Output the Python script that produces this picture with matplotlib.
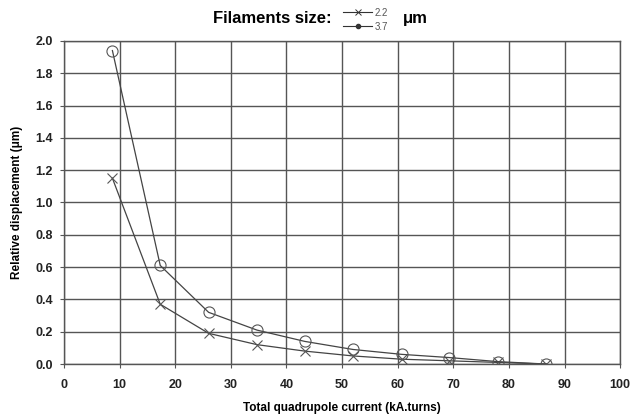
import matplotlib
matplotlib.use('Agg')
import matplotlib.pyplot as plt
from matplotlib.lines import Line2D

plt.rcParams['font.family'] = ['Liberation Sans', 'DejaVu Sans']

current = [8.7, 17.3, 26.0, 34.7, 43.3, 52.0, 60.7, 69.3, 78.0, 86.7]
disp_22 = [1.15, 0.37, 0.19, 0.12, 0.08, 0.05, 0.03, 0.02, 0.01, 0.0]
disp_37 = [1.94, 0.61, 0.32, 0.21, 0.14, 0.09, 0.06, 0.04, 0.015, 0.0]
labels = ['2.2', '3.7']

fig = plt.figure(figsize=(6.32, 4.17), dpi=100)
ax = fig.add_axes([0.1013, 0.127, 0.880, 0.775])

ax.plot(current, disp_22, '-', color='#444444', lw=0.9, marker='x',
        markersize=7, markeredgewidth=0.8, markeredgecolor='#555555')
ax.plot(current, disp_37, '-', color='#444444', lw=0.9, marker='o',
        markersize=8, markerfacecolor='none', markeredgewidth=0.8,
        markeredgecolor='#555555')

ax.set_xlim(0, 100)
ax.set_ylim(0, 2.0)
ax.set_xticks(range(0, 101, 10))
ax.set_yticks([i * 0.2 for i in range(11)])
ax.set_yticklabels([f'{i * 0.2:.1f}' for i in range(11)])
ax.grid(True, color='#555555', lw=1.0)
ax.set_axisbelow(True)
for s in ax.spines.values():
    s.set_color('#555555')
    s.set_linewidth(1.0)
ax.tick_params(labelsize=9, length=3, color='#555555', labelcolor='#222222')
ax.tick_params(axis='x', pad=8)
ax.tick_params(axis='y', pad=5)
for t in ax.get_xticklabels() + ax.get_yticklabels():
    t.set_fontweight('bold')

ax.set_xlabel('Total quadrupole current (kA.turns)', fontsize=8.5, fontweight='bold', labelpad=8)
ax.set_ylabel('Relative displacement (\u03bcm)', fontsize=8.5, fontweight='bold', labelpad=9)

# title with inline legend
fig.text(0.337, 0.955, 'Filaments size:', fontsize=12, fontweight='bold', va='center')
handles = [
    Line2D([], [], color='#333333', lw=0.8, marker='x', markersize=4, markeredgewidth=0.7),
    Line2D([], [], color='#333333', lw=0.8, marker='o', markersize=3, markerfacecolor='#333333'),
]
leg = fig.legend(handles, labels, loc='center left', bbox_to_anchor=(0.543, 0.953),
                 fontsize=7, frameon=False, handlelength=3.0, handletextpad=0.2,
                 labelspacing=0.4, borderpad=0, borderaxespad=0)
for t in leg.get_texts():
    t.set_color('#555555')
fig.text(0.637, 0.955, '\u03bcm', fontsize=12, fontweight='bold', va='center')

fig.savefig('out.png', dpi=100)
